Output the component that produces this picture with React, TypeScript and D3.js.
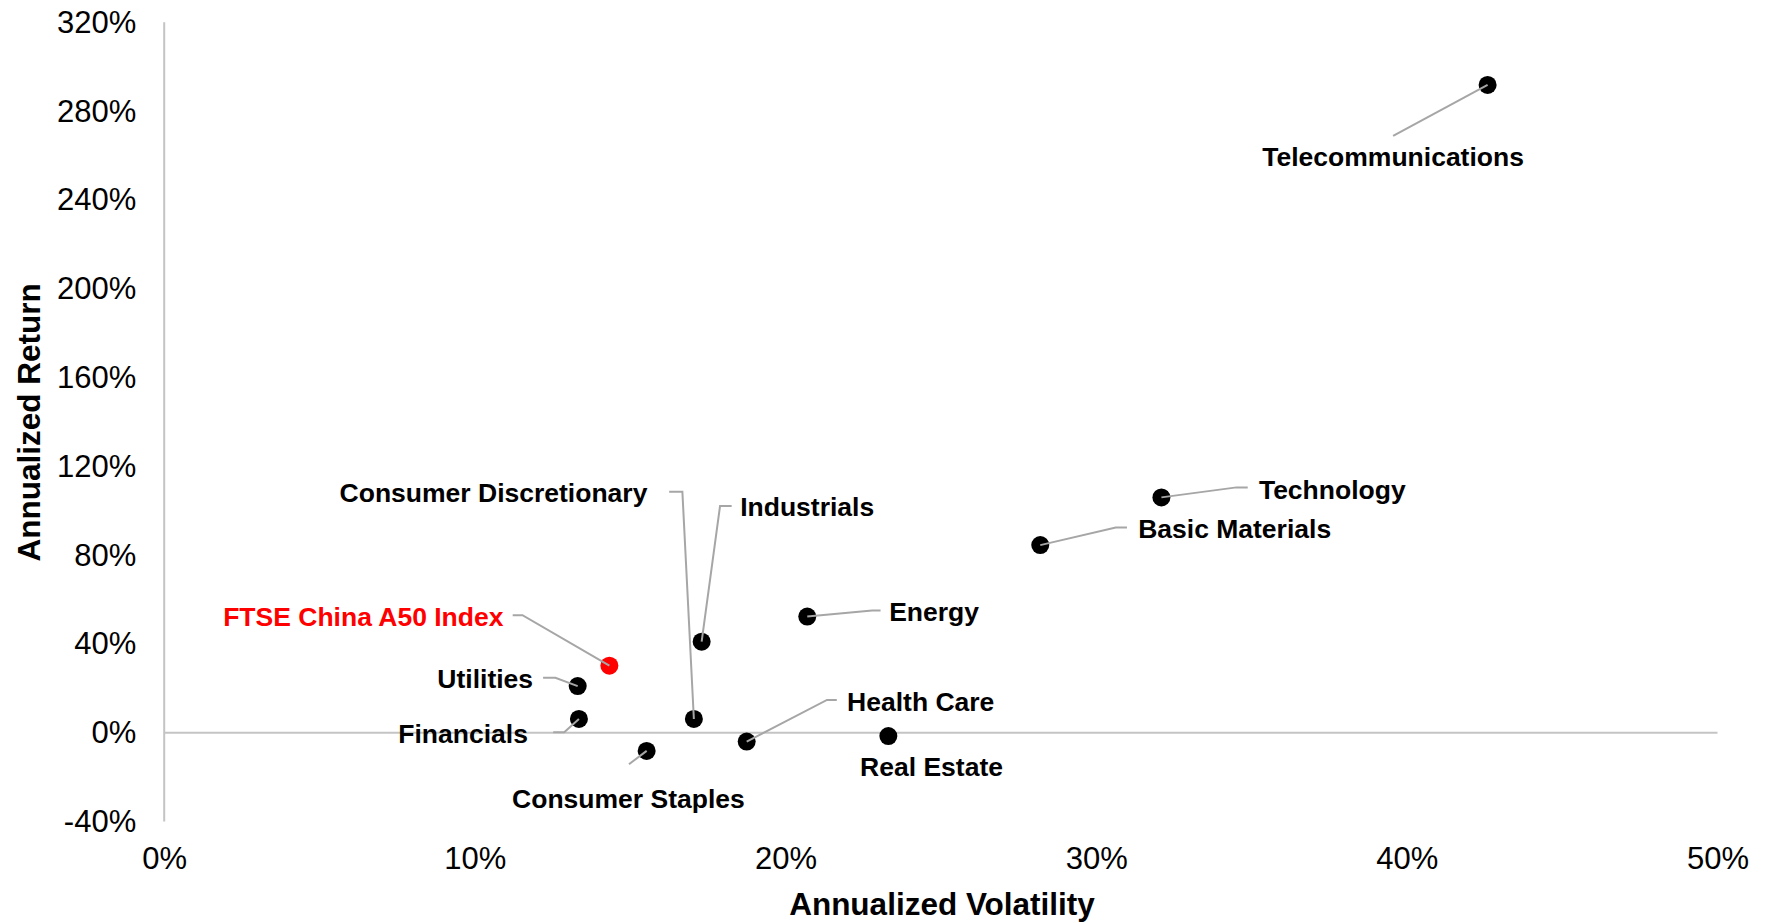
import React, { useEffect, useRef } from 'react';
import * as d3 from 'd3';

// sector risk / return
const sectors = [
    'Telecommunications', 'Technology', 'Basic Materials', 'Energy', 'Industrials',
    'Consumer Discretionary', 'FTSE China A50 Index', 'Utilities', 'Financials',
    'Consumer Staples', 'Health Care', 'Real Estate'
];
const volatility = [0.426, 0.321, 0.282, 0.207, 0.173, 0.1705, 0.1433, 0.1331, 0.1335, 0.1553, 0.1875, 0.2331];
const annReturn = [2.918, 1.060, 0.845, 0.523, 0.410, 0.062, 0.302, 0.210, 0.062, -0.082, -0.040, -0.015];
const highlight = 'FTSE China A50 Index';

const xTicks = [0, 0.1, 0.2, 0.3, 0.4, 0.5];
const yTicks = [-0.4, 0, 0.4, 0.8, 1.2, 1.6, 2.0, 2.4, 2.8, 3.2];

// leader line / label placement, px offsets from the dot
const labelLayout = [
    { ex: -94.5, ey: 51, sx: null, tx: -94.5, ty: 71.7, anchor: 'middle' },
    { ex: 75.1, ey: -10, sx: 86.3, tx: 97.5, ty: -7.3, anchor: 'start' },
    { ex: 75.5, ey: -17.7, sx: 86.7, tx: 97.9, ty: -16, anchor: 'start' },
    { ex: 64.9, ey: -6, sx: 73.3, tx: 81.9, ty: -4.7, anchor: 'start' },
    { ex: 18.4, ey: -135.7, sx: 30, tx: 38.5, ty: -135, anchor: 'start' },
    { ex: -11.5, ey: -227.3, sx: -24.7, tx: -46.5, ty: -226.3, anchor: 'end' },
    { ex: -86.9, ey: -50.4, sx: -96.7, tx: -105.9, ty: -49, anchor: 'end' },
    { ex: -22.3, ey: -8.3, sx: -34.6, tx: -44.6, ty: -7, anchor: 'end' },
    { ex: -14.7, ey: 13.4, sx: -25.7, tx: -51, ty: 14.7, anchor: 'end' },
    { ex: -17.7, ey: 13.3, sx: null, tx: -18.2, ty: 48.3, anchor: 'middle' },
    { ex: 80.3, ey: -41.7, sx: 90.1, tx: 100.4, ty: -39.4, anchor: 'start' },
    { ex: null, ey: null, sx: null, tx: 43.2, ty: 30.3, anchor: 'middle' },
];

export default function App() {

    const svgRef = useRef<SVGSVGElement>(null);

    const width = 1777;
    const height = 923;

    const margin = {
        top: 22.3,
        right: 59.5,
        bottom: 101.5,
        left: 164.2
    };

    const font = '"Liberation Sans", Arial, sans-serif';

    useEffect(() => {

        const svg = d3.select(svgRef.current)
            .attr('width', width)
            .attr('height', height);

        svg.selectAll('*').remove();

        const xScale = d3.scaleLinear()
            .domain([0, 0.5])
            .range([margin.left, width - margin.right]);

        const yScale = d3.scaleLinear()
            .domain([-0.4, 3.2])
            .range([height - margin.bottom, margin.top]);

        const pct = (d: number) => `${Math.round(d * 100)}%`;

        const xAxis = d3.axisBottom(xScale)
            .tickValues(xTicks)
            .tickSize(0)
            .tickPadding(25.3)
            .tickFormat(pct as any);

        const yAxis = d3.axisLeft(yScale)
            .tickValues(yTicks)
            .tickSize(0)
            .tickPadding(28)
            .tickFormat(pct as any);

        const xAxisG = svg.append('g')
            .attr('transform', `translate(0, ${height - margin.bottom})`)
            .call(xAxis);

        const yAxisG = svg.append('g')
            .attr('transform', `translate(${margin.left}, 0)`)
            .call(yAxis);

        [xAxisG, yAxisG].forEach(g => {
            g.select('.domain').remove();
            g.selectAll('text')
                .attr('font-family', font)
                .attr('font-size', 31)
                .attr('fill', '#000');
        });

        // vertical axis line at 0% vol, horizontal at 0% return
        svg.append('line')
            .attr('x1', xScale(0)).attr('x2', xScale(0))
            .attr('y1', yScale(3.2)).attr('y2', yScale(-0.4))
            .attr('stroke', '#c4c4c4')
            .attr('stroke-width', 2);

        svg.append('line')
            .attr('x1', xScale(0)).attr('x2', xScale(0.5))
            .attr('y1', yScale(0)).attr('y2', yScale(0))
            .attr('stroke', '#c4c4c4')
            .attr('stroke-width', 2);

        const data = sectors.map((name, i) => ({
            name,
            x: xScale(volatility[i]),
            y: yScale(annReturn[i]),
            lay: labelLayout[i]
        }));

        svg.append('g')
            .selectAll('circle')
            .data(data)
            .enter()
            .append('circle')
            .attr('cx', d => d.x)
            .attr('cy', d => d.y)
            .attr('r', 9)
            .attr('fill', d => d.name === highlight ? '#ff0000' : '#000');

        // leader lines
        const line = d3.line<[number, number]>();
        svg.append('g')
            .selectAll('path')
            .data(data.filter(d => d.lay.ex !== null))
            .enter()
            .append('path')
            .attr('d', d => {
                const pts: [number, number][] = [[d.x, d.y], [d.x + d.lay.ex!, d.y + d.lay.ey!]];
                if (d.lay.sx !== null) pts.push([d.x + d.lay.sx!, d.y + d.lay.ey!]);
                return line(pts);
            })
            .attr('fill', 'none')
            .attr('stroke', '#a6a6a6')
            .attr('stroke-width', 2);

        svg.append('g')
            .selectAll('text')
            .data(data)
            .enter()
            .append('text')
            .attr('x', d => d.x + d.lay.tx)
            .attr('y', d => d.y + d.lay.ty)
            .attr('dy', '0.35em')
            .attr('text-anchor', d => d.lay.anchor)
            .attr('font-family', font)
            .attr('font-size', 26.5)
            .attr('font-weight', 'bold')
            .attr('fill', d => d.name === highlight ? '#ff0000' : '#000')
            .text(d => d.name);

        // axis titles
        svg.append('text')
            .attr('x', 942)
            .attr('y', 904)
            .attr('dy', '0.35em')
            .attr('text-anchor', 'middle')
            .attr('font-family', font)
            .attr('font-size', 31.5)
            .attr('font-weight', 'bold')
            .text('Annualized Volatility');

        svg.append('text')
            .attr('transform', `translate(28.5, ${(yScale(3.2) + yScale(-0.4)) / 2 + 0.5}) rotate(-90)`)
            .attr('dy', '0.35em')
            .attr('text-anchor', 'middle')
            .attr('font-family', font)
            .attr('font-size', 31.5)
            .attr('font-weight', 'bold')
            .text('Annualized Return');

    });

    return (
        <svg ref={svgRef} style={{ position: 'absolute', left: 0, top: 0, display: 'block', background: '#fff' }}></svg>
    );
}
